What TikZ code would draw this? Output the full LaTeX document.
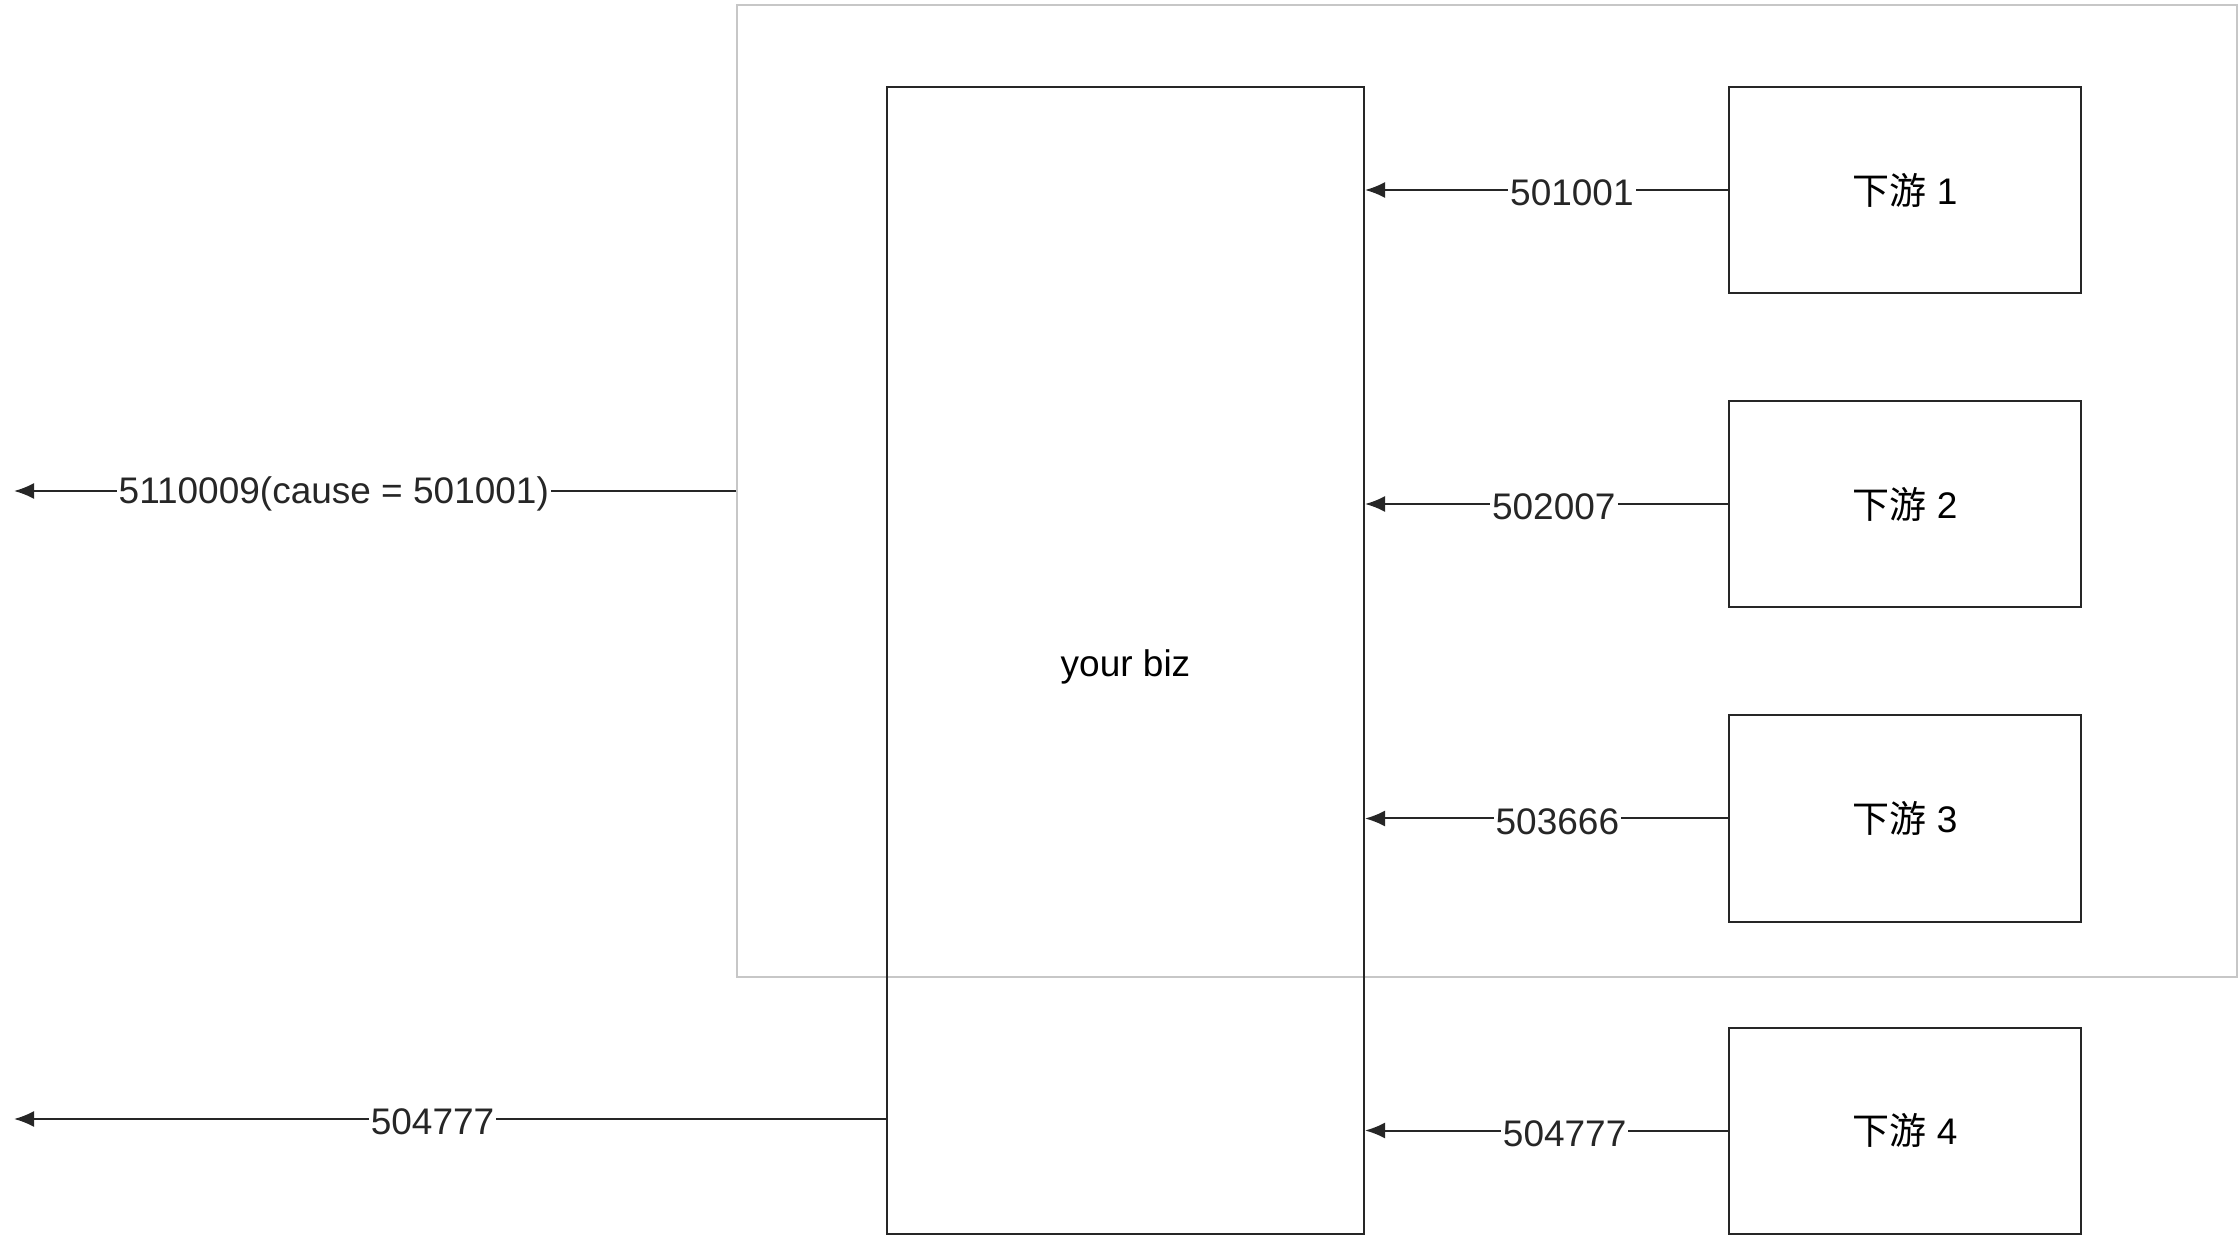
\documentclass[tikz,border=0pt]{standalone}
\usepackage{fontspec}
\setmainfont{Liberation Sans}
\newfontfamily\cjk{Noto Sans CJK SC}
\usetikzlibrary{arrows.meta}

\newcommand\diagfont{\fontsize{18.5}{22}\selectfont}

\tikzset{
  unit/.style={draw=black!85, line width=1pt, minimum width=176pt,
    minimum height=103pt, inner sep=0pt, font=\diagfont},
  code/.style={fill=white, inner sep=1pt, font=\diagfont, yshift=-1.5pt},
  flow/.style={-{Latex[length=10pt,width=8pt]}, line width=1pt, black!85},
}

\begin{document}
\begin{tikzpicture}[x=0.5pt, y=-0.5pt]

    %% canvas in pixels of the 2240 x 1240 layout
    \useasboundingbox (0,0) rectangle (2240,1240);

    %% =========================================================
    %% GROUP FRAME (light gray) — drawn first, boxes lie over it
    %% =========================================================
    \node[draw=black!22, line width=1pt, minimum width=750pt,
      minimum height=486pt, inner sep=0pt] (frame) at (1487,491) {};

    %% BUSINESS BOX
    \node[draw=black!85, line width=1pt, minimum width=238.5pt,
      minimum height=573.5pt, inner sep=0pt] (biz) at (1125.5,660.5) {};
    \node[font=\diagfont] (bizname) at ([yshift=-3pt]biz.center) {your biz};

    %% DOWNSTREAM SERVICES
    \node[unit] (down1) at (1905,190)   {{\cjk 下游} 1};
    \node[unit] (down2) at (1905,504)   {{\cjk 下游} 2};
    \node[unit] (down3) at (1905,818.5) {{\cjk 下游} 3};
    \node[unit] (down4) at (1905,1130.5) {{\cjk 下游} 4};

    %% ARROWS — downstream codes into biz
    \draw[flow] (down1) -- node[code, pos=0.43] {501001} (biz.east |- down1);
    \draw[flow] (down2) -- node[code, pos=0.48] {502007} (biz.east |- down2);
    \draw[flow] (down3) -- node[code, pos=0.47] {503666} (biz.east |- down3);
    \draw[flow] (down4) -- node[code, pos=0.45] {504777} (biz.east |- down4);

    %% ARROWS — codes returned to the caller
    \coordinate (outA) at (14,491);
    \coordinate (outB) at (14,1119);
    \draw[flow] (frame.west) -- node[code, pos=0.557]
      {5110009(cause = 501001)} (outA);
    \draw[flow] (biz.west |- outB) -- node[code, pos=0.52] {504777} (outB);

\end{tikzpicture}
\end{document}
